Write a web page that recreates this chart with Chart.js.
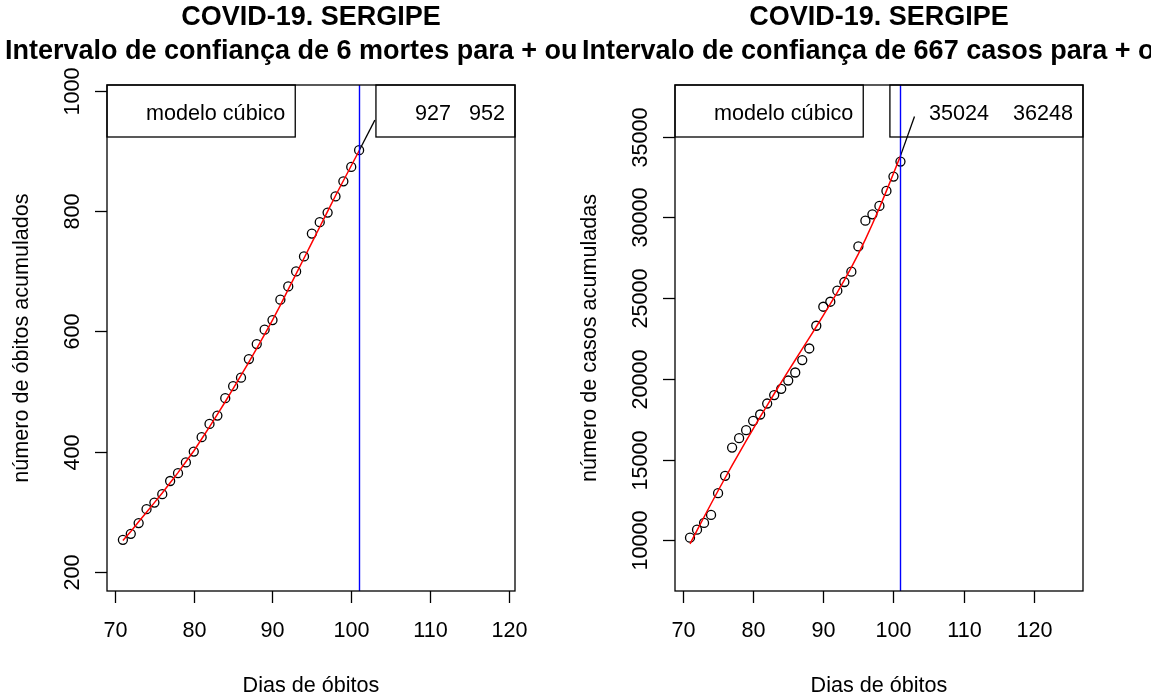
<!DOCTYPE html>
<html lang="pt">
<head>
<meta charset="UTF-8">
<title>COVID-19. SERGIPE - modelo cúbico</title>
<script src="https://cdn.jsdelivr.net/npm/chart.js"></script>
<style>
  html, body { margin: 0; padding: 0; background: #fff; }
  #wrap { position: relative; width: 1151px; height: 698px; overflow: hidden; }
  .painel { position: absolute; top: 0; height: 698px; }
  #esq { left: 0; width: 576px; }
  #dir { left: 576px; width: 575px; }
</style>
</head>
<body>
<div id="wrap">
  <div class="painel" id="esq"><canvas id="graficoObitos"></canvas></div>
  <div class="painel" id="dir"><canvas id="graficoCasos"></canvas></div>
</div>

<script>
// dias 71..101
const dias = [71,72,73,74,75,76,77,78,79,80,81,82,83,84,85,86,87,88,89,90,91,92,93,94,95,96,97,98,99,100,101];

// óbitos acumulados (pontos) e modelo cúbico (linha vermelha)
const obitos = [253,263,281,304,315,329,351,364,382,400,424,446,460,489,509,523,554,579,603,619,653,675,700,725,763,782,798,825,850,874,902];
const obitosModelo = [252,267,283,299,315,331,348,365,383,401,421,441,462,483,505,527,549,572,595,619,644,670,696,722,748,774,800,826,851,876,901];

// casos acumulados (pontos) e modelo cúbico
const casos = [10161,10657,11073,11569,12914,13987,15741,16324,16820,17397,17788,18469,18990,19381,19895,20391,21160,21879,23287,24465,24775,25457,25996,26635,28203,29797,30187,30708,31638,32525,33455];
const casosModelo = [9770,10610,11440,12260,13065,13855,14635,15400,16155,16900,17635,18360,19075,19780,20475,21165,21850,22535,23225,23925,24640,25360,26110,26900,27740,28640,29590,30590,31640,32720,33810];

// linha do dia 101 e traço até a previsão
const diaCorte = 101;
const diasSeta = [101, 103];
const setaObitos = [901, 952];
const setaCasos = [33810, 36248];

const xTicks = [70, 80, 90, 100, 110, 120];
const yTicksObitos = [200, 400, 600, 800, 1000];
const yTicksCasos = [10000, 15000, 20000, 25000, 30000, 35000];

const legendaModelo = 'modelo cúbico';
const previsaoObitos = '927   952';
const previsaoCasos = '35024    36248';

const FONTE = '"Liberation Sans", Arial, Helvetica, sans-serif';

function pares(xs, ys) {
    return xs.map((x, i) => ({ x: x, y: ys[i] }));
}

// desenha eixos, caixa, títulos e legendas no estilo do R
const eixosR = {
    id: 'eixosR',
    afterDraw(chart, args, o) {
        const ctx = chart.ctx;
        const a = chart.chartArea;
        const sx = chart.scales.x, sy = chart.scales.y;
        const meio = (a.left + a.right) / 2;
        ctx.save();

        // linha vertical azul
        const xb = Math.round(sx.getPixelForValue(diaCorte)) + 0.5;
        ctx.strokeStyle = '#0000ff';
        ctx.lineWidth = 1.4;
        ctx.beginPath();
        ctx.moveTo(xb, a.top);
        ctx.lineTo(xb, a.bottom);
        ctx.stroke();

        // caixa
        ctx.strokeStyle = '#000';
        ctx.lineWidth = 1.3;
        ctx.strokeRect(a.left, a.top, a.right - a.left, a.bottom - a.top);

        // ticks do eixo x
        ctx.fillStyle = '#000';
        ctx.font = '21.6px ' + FONTE;
        ctx.textAlign = 'center';
        ctx.textBaseline = 'middle';
        xTicks.forEach(v => {
            const px = Math.round(sx.getPixelForValue(v)) + 0.5;
            ctx.beginPath();
            ctx.moveTo(px, a.bottom);
            ctx.lineTo(px, a.bottom + 12);
            ctx.stroke();
            ctx.fillText(String(v), px, 631);
        });

        // ticks do eixo y (rótulos girados)
        o.yTicks.forEach(v => {
            const py = Math.round(sy.getPixelForValue(v)) + 0.5;
            ctx.beginPath();
            ctx.moveTo(a.left, py);
            ctx.lineTo(a.left - 12, py);
            ctx.stroke();
            ctx.save();
            ctx.translate(a.left - 34, py);
            ctx.rotate(-Math.PI / 2);
            ctx.fillText(String(v), 0, 0);
            ctx.restore();
        });

        // títulos dos eixos
        ctx.fillText('Dias de óbitos', meio, 686);
        ctx.save();
        ctx.translate(a.left - 85, (a.top + a.bottom) / 2);
        ctx.rotate(-Math.PI / 2);
        ctx.fillText(o.yTitulo, 0, 0);
        ctx.restore();

        // título principal
        ctx.font = 'bold 27px ' + FONTE;
        ctx.fillText('COVID-19. SERGIPE', meio, 18);
        ctx.textAlign = 'left';
        ctx.fillText(o.subtitulo, o.subX, 52);

        // legendas
        ctx.font = '21.6px ' + FONTE;
        ctx.textAlign = 'right';
        const alt = 52;
        const w1 = ctx.measureText(legendaModelo).width + 49;
        ctx.strokeRect(a.left, a.top, w1, alt);
        ctx.fillText(legendaModelo, a.left + w1 - 10, a.top + 29);
        const w2 = ctx.measureText(o.previsao).width + 49;
        ctx.strokeRect(a.right - w2, a.top, w2, alt);
        ctx.fillText(o.previsao, a.right - 10, a.top + 29);

        ctx.restore();
    }
};

function painel(id, pontos, modelo, seta, limites, extra) {
    return new Chart(document.getElementById(id).getContext('2d'), {
        type: 'scatter',
        data: {
            datasets: [
                {
                    type: 'line',
                    data: pares(diasSeta, seta),
                    borderColor: '#000',
                    borderWidth: 1.3,
                    pointRadius: 0,
                    tension: 0
                },
                {
                    type: 'line',
                    data: pares(dias, modelo),
                    borderColor: '#ff0000',
                    borderWidth: 1.5,
                    pointRadius: 0,
                    tension: 0
                },
                {
                    data: pares(dias, pontos),
                    pointStyle: 'circle',
                    pointRadius: 4.5,
                    borderColor: '#000',
                    borderWidth: 1.3,
                    backgroundColor: 'rgba(0,0,0,0)'
                }
            ]
        },
        options: {
            responsive: true,
            maintainAspectRatio: false,
            animation: false,
            events: [],
            layout: { padding: limites.padding },
            plugins: {
                legend: { display: false },
                tooltip: { enabled: false },
                eixosR: extra
            },
            scales: {
                x: { type: 'linear', display: false, min: limites.x[0], max: limites.x[1] },
                y: { type: 'linear', display: false, min: limites.y[0], max: limites.y[1] }
            }
        },
        plugins: [eixosR]
    });
}

painel('graficoObitos', obitos, obitosModelo, setaObitos,
    { padding: { left: 107, right: 61, top: 85, bottom: 107 }, x: [68.98, 120.8], y: [167.8, 1010.5] },
    {
        yTicks: yTicksObitos,
        yTitulo: 'número de óbitos acumulados',
        subtitulo: 'Intervalo de confiança de 6 mortes para + ou -',
        subX: 5,
        previsao: previsaoObitos
    });

painel('graficoCasos', casos, casosModelo, setaCasos,
    { padding: { left: 99, right: 68, top: 85, bottom: 107 }, x: [68.86, 127.02], y: [6855, 38201] },
    {
        yTicks: yTicksCasos,
        yTitulo: 'número de casos acumuladas',
        subtitulo: 'Intervalo de confiança de 667 casos para + ou -',
        subX: 6,
        previsao: previsaoCasos
    });
</script>
</body>
</html>
